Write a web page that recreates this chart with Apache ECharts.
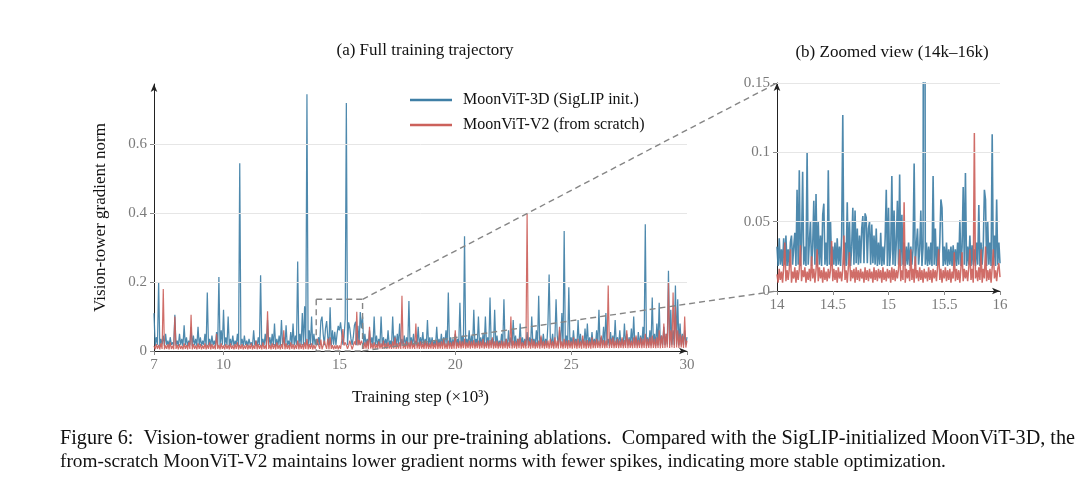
<!DOCTYPE html>
<html>
<head>
<meta charset="utf-8">
<script src="https://cdn.jsdelivr.net/npm/echarts@6/dist/echarts.min.js"></script>
<style>
  html, body { margin: 0; padding: 0; background: #fff; }
  #graph { width: 1080px; height: 490px; }
</style>
</head>
<body>
<div id="graph"></div>
<script>
// (a) full trajectory, one reading every 0.05k steps from 7k to 30k (one row = 1k steps)
var fullStart = 7, fullStep = 0.05;
var blueFull = [
  0.11,0.015,0.04,0.018,0.2,0.014,0.035,0.02,0.045,0.015,0.05,0.017,0.03,0.014,0.04,0.018,0.025,0.015,0.105,0.016,
  0.03,0.015,0.05,0.018,0.035,0.014,0.075,0.017,0.04,0.015,0.03,0.018,0.07,0.014,0.045,0.016,0.035,0.015,0.07,0.017,
  0.04,0.015,0.03,0.018,0.05,0.014,0.17,0.016,0.035,0.015,0.045,0.017,0.03,0.014,0.055,0.016,0.215,0.015,0.06,0.018,
  0.12,0.015,0.04,0.017,0.1,0.014,0.035,0.016,0.045,0.015,0.03,0.018,0.05,0.014,0.545,0.016,0.035,0.015,0.045,0.017,
  0.03,0.015,0.035,0.018,0.025,0.014,0.06,0.016,0.03,0.015,0.04,0.017,0.22,0.014,0.035,0.016,0.05,0.015,0.09,0.018,
  0.04,0.015,0.05,0.017,0.08,0.014,0.035,0.016,0.045,0.015,0.09,0.018,0.04,0.014,0.075,0.016,0.03,0.015,0.055,0.017,
  0.08,0.016,0.045,0.018,0.26,0.015,0.05,0.017,0.11,0.016,0.13,0.018,0.745,0.015,0.06,0.017,0.1,0.016,0.05,0.018,
  0.035,0.017,0.04,0.018,0.087,0.1,0.05,0.017,0.065,0.087,0.04,0.018,0.127,0.016,0.06,0.018,0.056,0.017,0.05,0.073,
  0.06,0.083,0.084,0.018,0.04,0.092,0.72,0.017,0.083,0.066,0.035,0.018,0.04,0.075,0.085,0.017,0.073,0.018,0.113,0.066,
  0.1,0.016,0.05,0.018,0.035,0.015,0.06,0.017,0.04,0.015,0.1,0.018,0.045,0.015,0.035,0.017,0.1,0.015,0.04,0.018,
  0.035,0.015,0.06,0.017,0.03,0.014,0.1,0.016,0.045,0.015,0.05,0.018,0.08,0.014,0.035,0.016,0.045,0.015,0.04,0.017,
  0.145,0.015,0.04,0.017,0.05,0.014,0.03,0.016,0.07,0.015,0.04,0.018,0.055,0.014,0.035,0.016,0.09,0.015,0.04,0.017,
  0.04,0.015,0.03,0.017,0.07,0.014,0.035,0.016,0.05,0.015,0.04,0.018,0.06,0.014,0.17,0.016,0.04,0.015,0.035,0.017,
  0.05,0.015,0.035,0.017,0.14,0.014,0.045,0.016,0.333,0.015,0.035,0.018,0.06,0.014,0.045,0.016,0.12,0.015,0.035,0.017,
  0.1,0.015,0.04,0.017,0.05,0.014,0.1,0.016,0.04,0.015,0.155,0.018,0.035,0.014,0.12,0.016,0.045,0.015,0.03,0.017,
  0.05,0.015,0.15,0.017,0.035,0.014,0.06,0.016,0.04,0.015,0.09,0.018,0.045,0.014,0.035,0.016,0.08,0.015,0.04,0.017,
  0.035,0.015,0.055,0.017,0.04,0.014,0.1,0.016,0.035,0.015,0.06,0.018,0.16,0.014,0.04,0.016,0.05,0.015,0.035,0.017,
  0.08,0.222,0.04,0.017,0.05,0.014,0.035,0.15,0.045,0.015,0.06,0.018,0.11,0.014,0.348,0.016,0.045,0.015,0.185,0.017,
  0.04,0.016,0.06,0.018,0.035,0.015,0.09,0.017,0.05,0.016,0.035,0.018,0.065,0.015,0.08,0.017,0.04,0.016,0.055,0.018,
  0.035,0.016,0.06,0.018,0.12,0.015,0.04,0.017,0.07,0.016,0.11,0.018,0.035,0.015,0.055,0.017,0.045,0.016,0.09,0.018,
  0.04,0.016,0.06,0.018,0.035,0.015,0.08,0.017,0.05,0.016,0.04,0.018,0.065,0.015,0.1,0.017,0.04,0.016,0.055,0.018,
  0.045,0.016,0.07,0.018,0.368,0.015,0.04,0.017,0.06,0.016,0.155,0.018,0.05,0.015,0.08,0.017,0.14,0.016,0.045,0.018,
  0.07,0.017,0.05,0.019,0.233,0.016,0.12,0.018,0.06,0.017,0.19,0.019,0.15,0.016,0.08,0.018,0.05,0.017,0.06,0.019,
  0.04
];
var redFull = [
  0.015,0.005,0.02,0.006,0.018,0.005,0.022,0.006,0.18,0.005,0.016,0.006,0.02,0.005,0.025,0.006,0.015,0.005,0.1,0.006,
  0.018,0.005,0.02,0.006,0.015,0.005,0.022,0.006,0.018,0.005,0.025,0.006,0.105,0.005,0.02,0.006,0.016,0.005,0.022,0.006,
  0.02,0.005,0.016,0.006,0.022,0.005,0.018,0.006,0.025,0.005,0.02,0.006,0.016,0.005,0.05,0.006,0.018,0.005,0.022,0.006,
  0.016,0.005,0.02,0.006,0.018,0.005,0.022,0.006,0.016,0.005,0.02,0.006,0.025,0.005,0.018,0.006,0.02,0.005,0.016,0.006,
  0.02,0.005,0.018,0.006,0.022,0.005,0.016,0.006,0.03,0.005,0.02,0.006,0.018,0.005,0.025,0.006,0.016,0.005,0.115,0.006,
  0.018,0.005,0.022,0.006,0.02,0.005,0.025,0.006,0.018,0.005,0.02,0.006,0.06,0.005,0.022,0.006,0.018,0.005,0.025,0.006,
  0.02,0.005,0.018,0.006,0.03,0.005,0.022,0.006,0.02,0.005,0.025,0.006,0.035,0.005,0.02,0.006,0.022,0.005,0.018,0.006,
  0.016,0.035,0.017,0.006,0.033,0.005,0.016,0.03,0.017,0.006,0.036,0.005,0.04,0.006,0.017,0.005,0.016,0.006,0.017,0.005,
  0.016,0.006,0.03,0.064,0.016,0.025,0.017,0.006,0.016,0.03,0.017,0.005,0.016,0.028,0.017,0.114,0.016,0.032,0.017,0.03,
  0.02,0.006,0.025,0.007,0.03,0.006,0.07,0.007,0.022,0.006,0.025,0.007,0.02,0.006,0.028,0.007,0.022,0.006,0.03,0.007,
  0.022,0.006,0.025,0.007,0.02,0.006,0.028,0.007,0.04,0.006,0.022,0.007,0.025,0.006,0.16,0.007,0.022,0.006,0.028,0.007,
  0.025,0.006,0.03,0.007,0.022,0.006,0.08,0.007,0.025,0.006,0.028,0.007,0.022,0.006,0.03,0.007,0.025,0.006,0.022,0.007,
  0.028,0.006,0.022,0.007,0.03,0.006,0.025,0.007,0.028,0.006,0.035,0.007,0.022,0.006,0.03,0.007,0.025,0.006,0.028,0.007,
  0.06,0.007,0.025,0.008,0.03,0.007,0.028,0.008,0.035,0.007,0.025,0.008,0.03,0.007,0.028,0.008,0.032,0.007,0.025,0.008,
  0.03,0.007,0.028,0.008,0.035,0.007,0.025,0.008,0.03,0.007,0.032,0.008,0.04,0.007,0.028,0.008,0.03,0.007,0.025,0.008,
  0.03,0.007,0.028,0.008,0.035,0.007,0.025,0.008,0.1,0.007,0.03,0.008,0.028,0.007,0.035,0.008,0.04,0.007,0.025,0.008,
  0.03,0.007,0.4,0.008,0.028,0.007,0.035,0.008,0.03,0.007,0.025,0.008,0.03,0.007,0.045,0.008,0.028,0.007,0.03,0.008,
  0.03,0.007,0.035,0.008,0.028,0.007,0.04,0.008,0.03,0.007,0.07,0.008,0.028,0.007,0.035,0.008,0.03,0.007,0.032,0.008,
  0.028,0.007,0.04,0.008,0.03,0.007,0.035,0.008,0.028,0.007,0.045,0.008,0.03,0.007,0.032,0.008,0.028,0.007,0.04,0.008,
  0.03,0.008,0.035,0.009,0.03,0.008,0.045,0.009,0.032,0.008,0.03,0.009,0.19,0.008,0.035,0.009,0.04,0.008,0.03,0.009,
  0.035,0.008,0.03,0.009,0.04,0.008,0.032,0.009,0.06,0.008,0.035,0.009,0.03,0.008,0.04,0.009,0.045,0.008,0.032,0.009,
  0.04,0.008,0.035,0.009,0.05,0.008,0.035,0.009,0.04,0.008,0.045,0.009,0.035,0.008,0.04,0.009,0.06,0.008,0.045,0.009,
  0.08,0.009,0.05,0.01,0.2,0.009,0.06,0.01,0.17,0.009,0.13,0.01,0.06,0.009,0.05,0.01,0.045,0.009,0.1,0.01,
  0.03
];

// (b) zoomed window, one reading every 0.01k steps from 14k to 16k (one row = 0.1k steps)
var zoomStart = 14, zoomStep = 0.01;
var blueZoom = [
  0.032,0.018,0.038,0.019,0.03,0.018,0.038,0.019,0.04,0.018,
  0.03,0.018,0.035,0.04,0.019,0.032,0.042,0.018,0.073,0.019,
  0.087,0.018,0.035,0.086,0.019,0.032,0.018,0.1,0.019,0.035,
  0.05,0.018,0.032,0.065,0.019,0.07,0.018,0.05,0.019,0.04,
  0.018,0.055,0.063,0.019,0.035,0.018,0.087,0.019,0.05,0.018,
  0.032,0.019,0.035,0.018,0.038,0.019,0.032,0.018,0.04,0.127,
  0.019,0.035,0.018,0.064,0.019,0.05,0.018,0.032,0.06,0.019,
  0.058,0.02,0.045,0.019,0.04,0.02,0.045,0.054,0.02,0.056,
  0.053,0.02,0.045,0.05,0.019,0.048,0.02,0.04,0.019,0.045,
  0.018,0.035,0.019,0.042,0.018,0.032,0.019,0.038,0.073,0.018,
  0.06,0.018,0.03,0.083,0.019,0.058,0.018,0.035,0.065,0.019,
  0.084,0.018,0.055,0.019,0.035,0.018,0.032,0.019,0.035,0.018,
  0.032,0.019,0.03,0.092,0.018,0.033,0.045,0.019,0.03,0.058,
  0.018,0.032,0.72,0.019,0.035,0.018,0.032,0.019,0.035,0.018,
  0.083,0.019,0.045,0.018,0.032,0.019,0.035,0.066,0.06,0.018,
  0.032,0.019,0.035,0.018,0.03,0.019,0.032,0.018,0.033,0.019,
  0.03,0.018,0.035,0.019,0.051,0.018,0.032,0.075,0.019,0.085,
  0.018,0.032,0.019,0.04,0.018,0.033,0.019,0.03,0.018,0.035,
  0.019,0.062,0.018,0.035,0.019,0.032,0.073,0.066,0.018,0.05,
  0.019,0.035,0.018,0.113,0.019,0.04,0.018,0.066,0.019,0.035,
  0.02
];
var redZoom = [
  0.012,0.006,0.016,0.008,0.014,0.006,0.017,0.035,0.007,0.015,
  0.008,0.016,0.03,0.006,0.014,0.009,0.017,0.006,0.015,0.008,
  0.016,0.033,0.007,0.015,0.01,0.017,0.006,0.014,0.008,0.016,
  0.007,0.025,0.009,0.016,0.006,0.015,0.03,0.007,0.017,0.009,
  0.015,0.006,0.017,0.008,0.014,0.007,0.016,0.009,0.015,0.036,
  0.007,0.016,0.008,0.015,0.006,0.017,0.009,0.014,0.007,0.016,
  0.04,0.008,0.015,0.006,0.017,0.028,0.007,0.015,0.009,0.016,
  0.006,0.017,0.008,0.015,0.007,0.016,0.009,0.014,0.006,0.017,
  0.008,0.015,0.007,0.016,0.009,0.014,0.006,0.017,0.008,0.015,
  0.007,0.016,0.009,0.015,0.006,0.017,0.008,0.014,0.007,0.016,
  0.009,0.015,0.006,0.017,0.008,0.016,0.007,0.015,0.009,0.016,
  0.03,0.007,0.015,0.008,0.064,0.006,0.016,0.009,0.015,0.007,
  0.03,0.008,0.016,0.006,0.025,0.009,0.015,0.007,0.017,0.008,
  0.015,0.006,0.016,0.009,0.014,0.007,0.017,0.008,0.015,0.006,
  0.016,0.009,0.015,0.007,0.017,0.03,0.008,0.016,0.006,0.015,
  0.009,0.017,0.007,0.015,0.008,0.016,0.006,0.014,0.009,0.028,
  0.007,0.016,0.008,0.015,0.006,0.017,0.028,0.007,0.016,0.009,
  0.015,0.007,0.017,0.03,0.008,0.016,0.006,0.114,0.009,0.015,
  0.007,0.017,0.008,0.03,0.006,0.016,0.009,0.032,0.007,0.015,
  0.008,0.016,0.006,0.017,0.03,0.009,0.015,0.007,0.016,0.02,
  0.01
];

var fullTicksX = [7, 10, 15, 20, 25, 30];
var fullTicksY = [0, 0.2, 0.4, 0.6];
var zoomTicksX = [14, 14.5, 15, 15.5, 16];
var zoomTicksY = [0, 0.05, 0.1, 0.15];
var zoomRangeX = [14, 16];
var zoomRangeY = [0, 0.15];

var nameBlue = 'MoonViT-3D (SigLIP init.)';
var nameRed = 'MoonViT-V2 (from scratch)';
var caption1 = 'Figure 6:  Vision-tower gradient norms in our pre-training ablations.  Compared with the SigLIP-initialized MoonViT-3D, the';
var caption2 = 'from-scratch MoonViT-V2 maintains lower gradient norms with fewer spikes, indicating more stable optimization.';

var SERIF = "'Liberation Serif', 'Times New Roman', serif";
var BLUE = '#3f7fa6';
var RED = '#cc615b';

function pairs(start, step, values) {
  return values.map(function (v, i) {
    return [+(start + i * step).toFixed(3), v];
  });
}

function gridLines(ticks) {
  return ticks.filter(function (t) { return t > 0; }).map(function (t) {
    return { yAxis: t };
  });
}

function axisX(idx, min, max, ticks, name) {
  return {
    type: 'value', gridIndex: idx, min: min, max: max,
    name: name, nameLocation: 'middle', nameGap: 38,
    nameTextStyle: { fontFamily: SERIF, fontSize: 17, color: '#111' },
    axisLine: { lineStyle: { color: '#222', width: 1 }, symbol: ['none', 'arrow'], symbolSize: [5, 8] },
    axisTick: { show: true, customValues: ticks, length: 4, inside: false, lineStyle: { color: '#888' } },
    axisLabel: { customValues: ticks, fontFamily: SERIF, fontSize: 15, color: '#7a7a7a', margin: 7 },
    splitLine: { show: false }
  };
}

function axisY(idx, min, max, ticks, name) {
  return {
    type: 'value', gridIndex: idx, min: min, max: max,
    name: name, nameLocation: 'middle', nameGap: 45, nameRotate: 90,
    nameTextStyle: { fontFamily: SERIF, fontSize: 17, color: '#111' },
    axisLine: { show: true, lineStyle: { color: '#222', width: 1 }, symbol: ['none', 'arrow'], symbolSize: [5, 8] },
    axisTick: { show: true, customValues: ticks, length: 4, lineStyle: { color: '#888' } },
    axisLabel: { customValues: ticks, fontFamily: SERIF, fontSize: 15, color: '#7a7a7a', margin: 7 },
    splitLine: { show: false }
  };
}

function lineSeries(name, data, xi, color, z, width) {
  return {
    name: name, type: 'line', xAxisIndex: xi, yAxisIndex: xi,
    data: data, symbol: 'none', showSymbol: false, sampling: null,
    clip: true, z: z, silent: true,
    lineStyle: { color: color, width: width, opacity: 0.92 },
    itemStyle: { color: color }
  };
}

function gridSeries(xi, ticks) {
  return {
    type: 'line', xAxisIndex: xi, yAxisIndex: xi, data: [], z: 1, silent: true,
    markLine: {
      silent: true, symbol: 'none', label: { show: false },
      lineStyle: { color: '#e6e6e6', width: 1, type: 'solid' },
      data: gridLines(ticks)
    }
  };
}

var chart = echarts.init(document.getElementById('graph'), null, { renderer: 'canvas' });

chart.setOption({
  backgroundColor: '#fff',
  animation: false,
  title: [
    { text: '(a) Full training trajectory', left: 420, top: 37, textAlign: 'center',
      textStyle: { fontFamily: SERIF, fontSize: 17, fontWeight: 'normal', color: '#111' } },
    { text: '(b) Zoomed view (14k–16k)', left: 887, top: 39, textAlign: 'center',
      textStyle: { fontFamily: SERIF, fontSize: 17, fontWeight: 'normal', color: '#111' } }
  ],
  legend: {
    data: [nameBlue, nameRed], orient: 'vertical', left: 405, top: 87,
    icon: 'rect', itemWidth: 42, itemHeight: 2.4, itemGap: 9,
    textStyle: { fontFamily: SERIF, fontSize: 16, color: '#111', padding: [0, 0, 0, 6] },
    selectedMode: false
  },
  grid: [
    { left: 154, right: 393, top: 84, bottom: 139 },
    { left: 777, right: 80, top: 83, bottom: 199 }
  ],
  xAxis: [
    axisX(0, fullTicksX[0], fullTicksX[fullTicksX.length - 1], fullTicksX, 'Training step (×10³)'),
    axisX(1, zoomRangeX[0], zoomRangeX[1], zoomTicksX, '')
  ],
  yAxis: [
    axisY(0, 0, 0.775, fullTicksY, 'Vision-tower gradient norm'),
    axisY(1, zoomRangeY[0], zoomRangeY[1], zoomTicksY, '')
  ],
  series: [
    gridSeries(0, fullTicksY),
    gridSeries(1, zoomTicksY),
    lineSeries(nameBlue, pairs(fullStart, fullStep, blueFull), 0, BLUE, 3, 1.25),
    lineSeries(nameRed, pairs(fullStart, fullStep, redFull), 0, RED, 4, 1.2),
    lineSeries(nameBlue, pairs(zoomStart, zoomStep, blueZoom), 1, BLUE, 3, 1.6),
    lineSeries(nameRed, pairs(zoomStart, zoomStep, redZoom), 1, RED, 4, 1.5)
  ]
});

// zoom box and connector lines, placed through the axes
var p0 = chart.convertToPixel({ gridIndex: 0 }, [zoomRangeX[0], zoomRangeY[1]]);
var p1 = chart.convertToPixel({ gridIndex: 0 }, [zoomRangeX[1], zoomRangeY[0]]);
var q0 = chart.convertToPixel({ gridIndex: 1 }, [zoomRangeX[0], zoomRangeY[1]]);
var q1 = chart.convertToPixel({ gridIndex: 1 }, [zoomRangeX[0], zoomRangeY[0]]);
var dash = { stroke: '#858585', lineWidth: 1.4, lineDash: [6, 4], fill: null };

chart.setOption({
  graphic: [
    { type: 'rect', z: 10, silent: true,
      shape: { x: p0[0], y: p0[1], width: p1[0] - p0[0], height: p1[1] - p0[1] }, style: dash },
    { type: 'line', z: 10, silent: true,
      shape: { x1: p1[0], y1: p0[1], x2: q0[0], y2: q0[1] }, style: dash },
    { type: 'line', z: 10, silent: true,
      shape: { x1: p1[0], y1: p1[1], x2: q1[0], y2: q1[1] }, style: dash },
    { type: 'text', left: 60, top: 429, silent: true,
      style: { text: caption1, font: '20.2px ' + SERIF, fill: '#111' } },
    { type: 'text', left: 60, top: 452, silent: true,
      style: { text: caption2, font: '19.3px ' + SERIF, fill: '#111' } }
  ]
});
</script>
</body>
</html>
